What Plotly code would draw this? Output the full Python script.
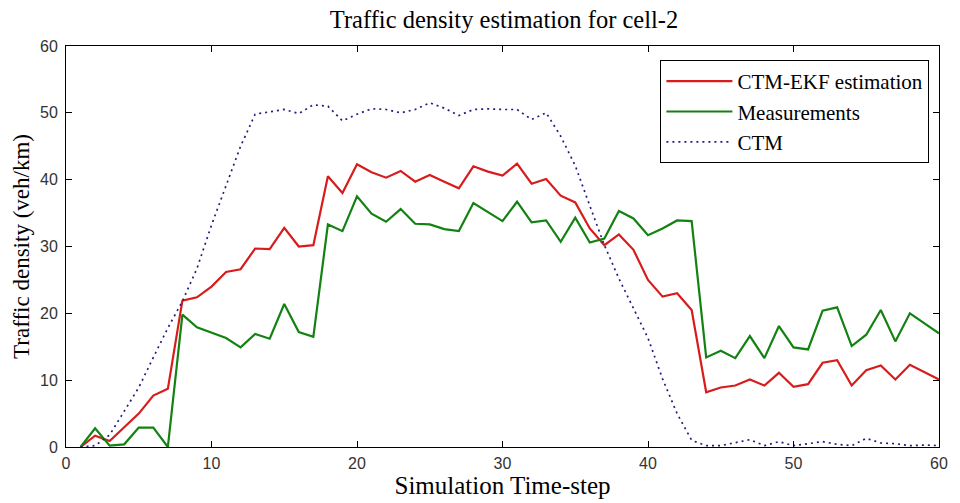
import plotly.graph_objects as go

time_steps = list(range(1, 61))

ctm_ekf = [0, 1.7, 0.9, 3.0, 5.0, 7.7, 8.7, 21.9, 22.4, 24.0,
           26.2, 26.6, 29.7, 29.6, 32.8, 30.0, 30.2, 40.5, 38.0, 42.3,
           41.1, 40.3, 41.3, 39.7, 40.7, 39.7, 38.7, 42.0, 41.2, 40.6,
           42.4, 39.4, 40.1, 37.6, 36.6, 32.7, 30.2, 31.8, 29.5, 25.0,
           22.5, 23.0, 20.5, 8.2, 8.9, 9.2, 10.1, 9.2, 11.1, 9.0,
           9.4, 12.6, 13.0, 9.2, 11.5, 12.2, 10.1, 12.3, 11.2, 10.1]

measurements = [0, 2.8, 0.2, 0.4, 2.9, 2.9, 0, 19.8, 17.9, 17.1,
                16.3, 14.9, 16.9, 16.2, 21.4, 17.2, 16.5, 33.3, 32.3, 37.5,
                34.9, 33.7, 35.6, 33.4, 33.3, 32.6, 32.3, 36.5, 35.1, 33.8,
                36.7, 33.6, 33.9, 30.7, 34.3, 30.6, 31.2, 35.3, 34.2, 31.7,
                32.7, 33.9, 33.8, 13.4, 14.4, 13.3, 16.6, 13.3, 18.1, 14.9,
                14.6, 20.4, 20.9, 15.1, 16.8, 20.5, 15.8, 20.0, 18.5, 17.0]

ctm = [0, 0.2, 1.8, 5.4, 8.9, 13.4, 17.8, 21.8, 26.7, 33.2,
       39.1, 45.0, 49.8, 50.2, 50.5, 49.9, 51.2, 51.0, 48.8, 49.8,
       50.6, 50.5, 50.0, 50.5, 51.5, 50.7, 49.6, 50.5, 50.6, 50.5,
       50.5, 49.0, 50.0, 46.5, 42.1, 36.1, 30.2, 25.2, 20.8, 16.3,
       10.2, 5.0, 1.0, 0.2, 0.2, 0.6, 1.1, 0.2, 0.8, 0.2,
       0.5, 0.8, 0.4, 0.2, 1.3, 0.6, 0.5, 0.2, 0.3, 0.2]

x_ticks = [0, 10, 20, 30, 40, 50, 60]
y_ticks = [0, 10, 20, 30, 40, 50, 60]

serif = "Liberation Serif, Times New Roman, serif"
sans = "Liberation Sans, Arial, sans-serif"

fig = go.Figure()
fig.add_trace(go.Scatter(x=time_steps, y=ctm_ekf, mode="lines", name="CTM-EKF estimation",
                         line=dict(color="#d81c1c", width=2.2)))
fig.add_trace(go.Scatter(x=time_steps, y=measurements, mode="lines", name="Measurements",
                         line=dict(color="#128212", width=2.2)))
fig.add_trace(go.Scatter(x=time_steps, y=ctm, mode="lines", name="CTM",
                         line=dict(color="#1e1e80", width=1.7, dash="2px,4px")))

axis_common = dict(
    showgrid=False, zeroline=False, showline=True, linecolor="black", linewidth=1,
    mirror="ticks", ticks="inside", ticklen=6, tickcolor="black", tickwidth=1,
    tickfont=dict(family=sans, size=16, color="#333333"),
)

fig.update_layout(
    width=960, height=503,
    margin=dict(l=66, r=14, t=46, b=53),
    paper_bgcolor="white", plot_bgcolor="white",
    title=dict(text="Traffic density estimation for cell-2", x=0.525, xanchor="center",
               y=0.962, yanchor="middle",
               font=dict(family=serif, size=24.5, color="black")),
    xaxis=dict(range=[0, 60], tickvals=x_ticks, ticklabelstandoff=2,
               title=dict(text="Simulation Time-step", standoff=1,
                          font=dict(family=serif, size=25, color="black")),
               **axis_common),
    yaxis=dict(range=[0, 60], tickvals=y_ticks, ticklabelstandoff=4,
               title=dict(text="Traffic density (veh/km)", standoff=3,
                          font=dict(family=serif, size=23, color="black")),
               **axis_common),
    legend=dict(x=0.989, xanchor="right", y=0.965, yanchor="top",
                bgcolor="white", bordercolor="black", borderwidth=1,
                font=dict(family=serif, size=21, color="black"),
                tracegroupgap=0, itemwidth=66),
    showlegend=True,
)

fig.write_html("out.html")
